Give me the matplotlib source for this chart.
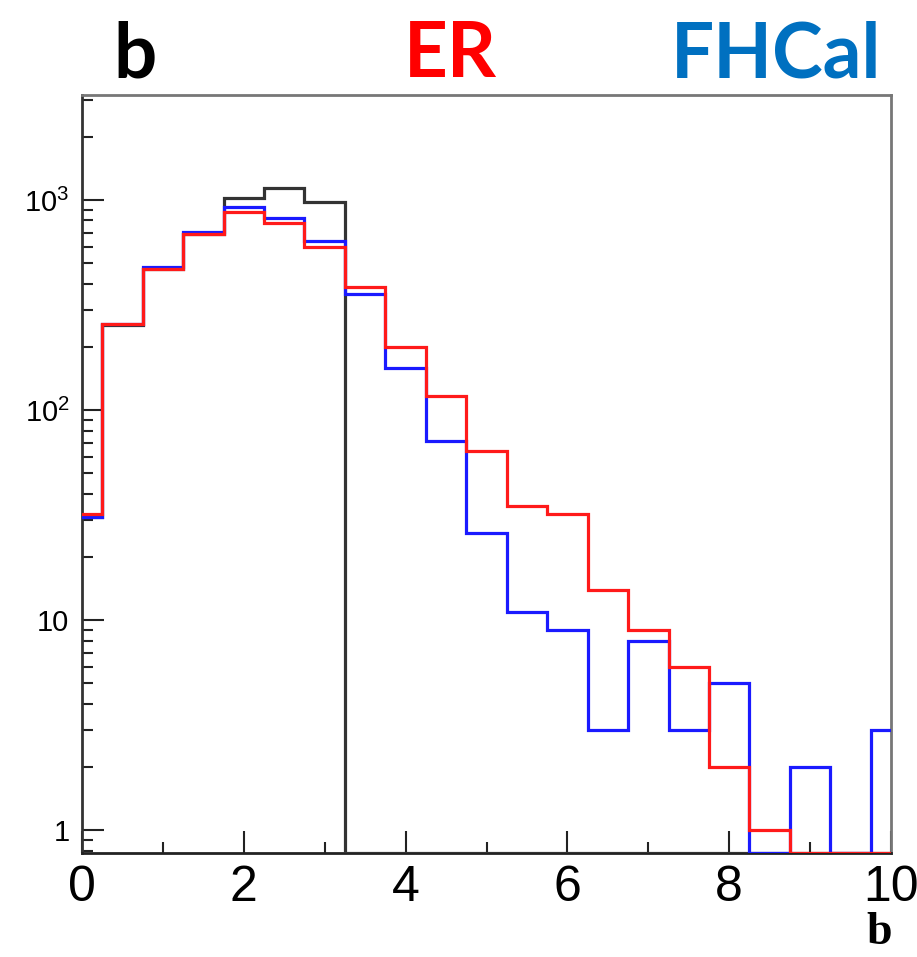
import matplotlib
matplotlib.use("Agg")
import matplotlib.pyplot as plt
import matplotlib.ticker as ticker
import numpy as np

plt.rcParams["mathtext.fontset"] = "custom"
plt.rcParams["mathtext.rm"] = "Liberation Sans"

# bin edges: width 0.5, centred on 0, 0.5, ..., 10
bin_lo = -0.25
bin_w = 0.5
n_bins = 21

# counts per bin
counts_true = [31, 255, 470, 690, 1018, 1145, 975, 0, 0, 0, 0,
               0, 0, 0, 0, 0, 0, 0, 0, 0, 0]
counts_fhcal = [31, 258, 481, 706, 922, 824, 638, 359, 158, 71, 26,
                11, 9, 3, 8, 3, 5, 0, 2, 0, 3]
counts_er = [32, 258, 469, 689, 873, 780, 600, 384, 199, 117, 64,
             35, 32, 14, 9, 6, 2, 1, 0, 0, 0]

y_ticks = [1, 10, 100, 1000]
y_tick_labels = ["1", "10", r"$\mathregular{10^{2}}$", r"$\mathregular{10^{3}}$"]
x_ticks = [0, 2, 4, 6, 8, 10]

ymin, ymax = 0.78, 10 ** 3.5

fig = plt.figure(figsize=(9.17, 9.57), dpi=100)
ax = fig.add_axes([0.0894, 0.1087, 0.9717 - 0.0894, 0.9007 - 0.1087])

edges = bin_lo + bin_w * np.arange(n_bins + 1)

def draw(counts, color):
    v = np.array(counts, dtype=float)
    v = np.where(v > 0, v, ymin)  # empty bins sit on the axis, ROOT-style
    ax.stairs(v, edges, color=color, lw=2.3, zorder=3)

draw(counts_true, "#333333")
draw(counts_fhcal, "#1a1aff")
draw(counts_er, "#ff1a1a")

ax.set_yscale("log")
ax.set_xlim(0, 10)
ax.set_ylim(ymin, ymax)

ax.yaxis.set_major_locator(ticker.FixedLocator(y_ticks))
ax.yaxis.set_major_formatter(ticker.FixedFormatter(y_tick_labels))
ax.yaxis.set_minor_locator(ticker.LogLocator(base=10, subs=np.arange(2, 10)))
ax.yaxis.set_minor_formatter(ticker.NullFormatter())
ax.xaxis.set_major_locator(ticker.FixedLocator(x_ticks))
ax.xaxis.set_minor_locator(ticker.MultipleLocator(1))

ax.tick_params(which="both", direction="in", top=False, right=False, width=1.5, color="#222222")
ax.tick_params(which="major", length=16)
ax.tick_params(which="minor", length=8)
ax.tick_params(axis="x", which="major", labelsize=36, pad=9)
ax.tick_params(axis="y", which="major", labelsize=21, pad=9)
for lab in ax.get_xticklabels() + ax.get_yticklabels():
    lab.set_family("Liberation Sans")

ax.spines["left"].set_color("#333333")
ax.spines["bottom"].set_color("#222222")
ax.spines["top"].set_color("#777777")
ax.spines["right"].set_color("#777777")
for s in ax.spines.values():
    s.set_linewidth(2)

# axis title, ROOT style at right end
fig.text(0.973, 1 - 944 / 957, "b", ha="right", va="baseline",
         family="Liberation Serif", weight="bold", fontsize=33)

# header labels
fig.text(0.147, 0.9195, "b", ha="center", va="baseline", family="Lato",
         weight="bold", fontsize=55, color="black")
fig.text(0.491, 0.9195, "ER", ha="center", va="baseline", family="Lato",
         weight="bold", fontsize=55, color="#ff0000")
fig.text(0.846, 0.9195, "FHCal", ha="center", va="baseline", family="Lato",
         weight="bold", fontsize=55, color="#0070c0")

fig.savefig("out.png", dpi=100)
